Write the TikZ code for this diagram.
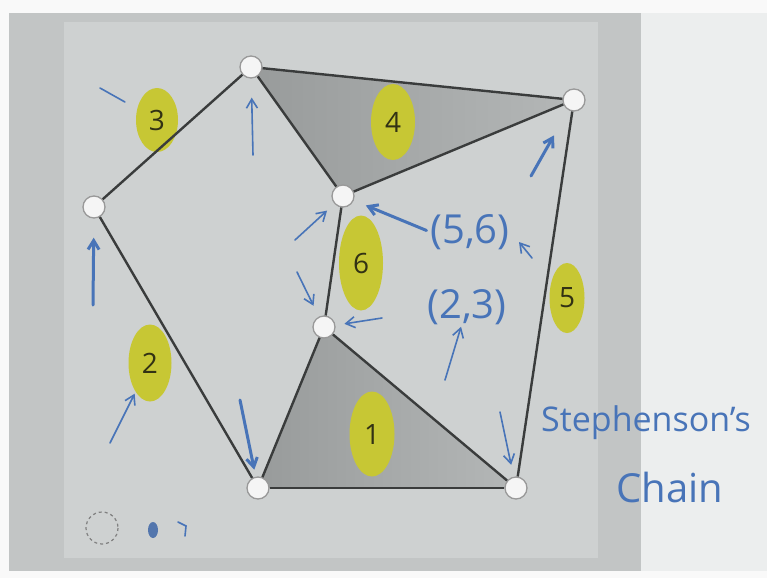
\documentclass[tikz,border=0pt]{standalone}
\usepackage{fontspec}
\setmainfont{Open Sans}
\usepackage{xcolor}
\definecolor{slidegray}{RGB}{194,197,197}
\definecolor{panelgray}{RGB}{206,209,209}
\definecolor{screenwhite}{RGB}{236,238,238}
\definecolor{linkdark}{RGB}{152,155,155}
\definecolor{linklight}{RGB}{180,183,183}
\definecolor{barcolor}{RGB}{58,60,60}
\definecolor{hiyellow}{RGB}{199,199,52}
\definecolor{tagtext}{RGB}{50,50,20}
\definecolor{penblue}{RGB}{72,116,184}
\usepackage{tikz}
\usetikzlibrary{arrows.meta, calc, shapes.geometric, backgrounds}

\begin{document}
\begin{tikzpicture}[x=1pt, y=-1pt, >={Straight Barb[length=9pt,width=11pt]},
    joint/.style={circle, draw=gray!80!white, fill=white!92!gray, line width=1.3pt, minimum size=22pt, inner sep=0pt},
    bar/.style={draw=barcolor, line width=2.4pt},
    tag/.style={ellipse, fill=hiyellow, inner sep=0pt, text=tagtext, font=\fontsize{28}{28}\selectfont},
    pen/.style={draw=penblue, line width=1.6pt, line cap=round},
    thickpen/.style={pen, line width=3pt},
    scrawl/.style={text=penblue, font=\fontsize{40}{40}\selectfont, inner sep=0pt}]
    \useasboundingbox (0,0) rectangle (767,578);

    \node [joint] (jtop) at (251,67) {};
    \node [joint] (jright) at (574,100) {};
    \node [joint] (jleft) at (94,207) {};
    \node [joint] (jmidup) at (343,196) {};
    \node [joint] (jmidlow) at (324,327) {};
    \node [joint] (jbotleft) at (258,488) {};
    \node [joint] (jbotright) at (516,488) {};

    \begin{scope}[on background layer]
        \fill [white!95!gray] (0,0) rectangle (767,578);
        \fill [slidegray] (9,13) rectangle (641,571);
        \fill [panelgray] (64,22) rectangle (598,558);
        \fill [screenwhite] (641,13) rectangle (767,571);
        \shade [left color=linkdark, right color=linklight] (jtop.center) -- (jright.center) -- (jmidup.center) -- cycle;
        \shade [left color=linkdark, right color=linklight] (jmidlow.center) -- (jbotright.center) -- (jbotleft.center) -- cycle;
        \node [tag, minimum width=42pt, minimum height=64pt] (tthree) at (157,120) {3};
        \node [tag, minimum width=44pt, minimum height=76pt] (tfour) at (393,122) {4};
        \node [tag, minimum width=44pt, minimum height=95pt] (tsix) at (361,263) {6};
        \node [tag, minimum width=35pt, minimum height=70pt] (tfive) at (567,298) {5};
        \node [tag, minimum width=43pt, minimum height=77pt] (ttwo) at (150,363) {2};
        \node [tag, minimum width=45pt, minimum height=85pt] (tone) at (372,434) {1};
    \end{scope}

    \draw [bar] (jtop) -- (jright);
    \draw [bar] (jtop) -- (jmidup);
    \draw [bar] (jright) -- (jmidup);
    \draw [bar] (jtop) -- (jleft);
    \draw [bar] (jleft) -- (jbotleft);
    \draw [bar] (jmidup) -- (jmidlow);
    \draw [bar] (jmidlow) -- (jbotleft);
    \draw [bar] (jmidlow) -- (jbotright);
    \draw [bar] (jbotleft) -- (jbotright);
    \draw [bar] (jright) -- (jbotright);

    \node [scrawl] (pfivesix) at (470,232) {(5,6)};
    \node [scrawl] (ptwothree) at (467,307) {(2,3)};
    \node [scrawl, anchor=west, font=\fontsize{34}{34}\selectfont] (steph) at (541,423) {Stephenson's};
    \node [scrawl] (chain) at (670,487) {Chain};

    \coordinate (utop) at (253,155);
    \coordinate (uleft) at (93,305);
    \coordinate (uright) at (531,176);
    \coordinate (dbotleft) at (240,400);
    \coordinate (dbotright) at (500,412);
    \coordinate (umidup) at (295,240);
    \coordinate (dmidlow) at (297,272);
    \coordinate (lmidlow) at (382,318);
    \coordinate (utwothree) at (445,380);
    \coordinate (utwo) at (110,443);
    \coordinate (dashthree) at (100,88);
    \coordinate (tickfivesix) at (532,258);
    \coordinate (oddmark) at (102,528);

    \draw [pen, ->, shorten >=19pt] (utop) -- (jtop);
    \draw [thickpen, ->, shorten >=19pt] (uleft) -- (jleft);
    \draw [thickpen, ->, shorten >=29pt] (uright) -- (jright);
    \draw [thickpen, ->, shorten >=7pt] (dbotleft) -- (jbotleft);
    \draw [pen, ->, shorten >=12pt] (dbotright) -- (jbotright);
    \draw [pen, ->, shorten >=10pt] (umidup) -- (jmidup);
    \draw [pen, ->, shorten >=12pt] (dmidlow) -- (jmidlow);
    \draw [thickpen, ->, shorten >=13pt, shorten <=4pt] (pfivesix.west) -- (jmidup);
    \draw [pen, ->, shorten >=9pt] (lmidlow) -- (jmidlow);
    \draw [pen, ->, shorten >=2pt] (utwothree) -- (ptwothree);
    \draw [pen, ->, shorten >=2pt] (utwo) -- (ttwo);
    \draw [pen, shorten >=14pt] (dashthree) -- (tthree);
    \draw [pen, ->] (tickfivesix) -- ++(-13,-16);

    \draw [gray, dashed, line width=1.2pt] (oddmark) circle (16);
    \fill [penblue!80!gray] (153,530) ellipse (5 and 8);
    \draw [pen] (178,522) -- (186,526) -- (185,536);
\end{tikzpicture}
\end{document}
